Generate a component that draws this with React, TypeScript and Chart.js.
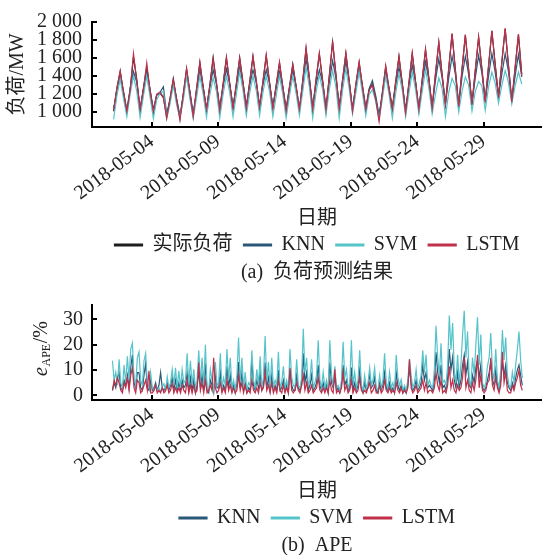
import React, { useEffect, useRef } from 'react';
import { Chart, registerables } from 'chart.js';

Chart.register(...registerables);

const FONT = '"Liberation Serif", "Times New Roman", Tinos, "DejaVu Serif", "Noto Sans CJK SC", serif';
const TEXT = '#222222';

// ---- data ----
// day 0 = 2018-05-01; load sampled at these hours of each day
const loadHours = [3, 9, 15, 21];
// APE sampled at these hours of each day
const apeHours = [1, 4, 7, 10, 13, 16, 19, 22];

const xTickDays = [3, 8, 13, 18, 23, 28];
const xTickLabels = ['2018-05-04', '2018-05-09', '2018-05-14', '2018-05-19', '2018-05-24', '2018-05-29'];
const loadTicks = [1000, 1200, 1400, 1600, 1800, 2000];
const apeTicks = [0, 10, 20, 30];

const seriesNames = ['实际负荷', 'KNN', 'SVM', 'LSTM'];
const seriesColors = ['#1e1e1e', '#2a5878', '#55c3ca', '#c0304a'];

const actualLoad = [
  1010, 1260, 1450, 1210, 1000, 1250, 1610, 1360, 1020, 1270, 1500, 1240, 1000, 1190, 1210, 1160,
  950, 1150, 1370, 1140, 930, 1200, 1480, 1220, 960, 1250, 1550, 1280, 1020, 1300, 1605, 1320,
  1030, 1310, 1600, 1320, 1040, 1310, 1605, 1330, 1050, 1330, 1615, 1340, 1050, 1330, 1625, 1330,
  1050, 1300, 1545, 1280, 1020, 1280, 1530, 1280, 1020, 1350, 1700, 1380, 1040, 1350, 1645, 1350,
  1020, 1400, 1775, 1420, 1050, 1350, 1650, 1350, 1020, 1300, 1550, 1290, 1020, 1250, 1310, 1150,
  940, 1220, 1500, 1260, 1040, 1330, 1620, 1320, 1000, 1320, 1650, 1340, 1020, 1360, 1690, 1380,
  1050, 1420, 1770, 1420, 1090, 1480, 1865, 1470, 1070, 1470, 1855, 1470, 1090, 1460, 1830, 1480,
  1120, 1510, 1900, 1530, 1170, 1550, 1925, 1520, 1120, 1490, 1860, 1420,
];
const knnLoad = [
  1030, 1240, 1400, 1230, 1020, 1260, 1450, 1330, 1040, 1250, 1450, 1250, 1030, 1190, 1220, 1280,
  980, 1130, 1330, 1150, 960, 1180, 1420, 1230, 980, 1220, 1460, 1280, 1040, 1270, 1470, 1310,
  1050, 1280, 1480, 1310, 1060, 1280, 1500, 1320, 1070, 1290, 1470, 1330, 1070, 1300, 1470, 1320,
  1060, 1270, 1450, 1280, 1040, 1260, 1460, 1290, 1040, 1300, 1590, 1360, 1060, 1300, 1470, 1330,
  1050, 1330, 1570, 1380, 1070, 1320, 1560, 1340, 1040, 1280, 1480, 1290, 1050, 1260, 1350, 1180,
  970, 1190, 1450, 1270, 1050, 1290, 1500, 1310, 1020, 1290, 1520, 1330, 1040, 1310, 1560, 1360,
  1060, 1350, 1590, 1380, 1090, 1380, 1620, 1420, 1080, 1390, 1620, 1420, 1100, 1380, 1630, 1430,
  1130, 1400, 1650, 1440, 1170, 1420, 1650, 1450, 1130, 1400, 1640, 1390,
];
const svmLoad = [
  920, 1180, 1370, 1150, 950, 1200, 1400, 1230, 940, 1180, 1400, 1170, 930, 1140, 1210, 1230,
  930, 1090, 1300, 1080, 940, 1130, 1400, 1150, 930, 1160, 1400, 1200, 945, 1190, 1380, 1230,
  935, 1200, 1400, 1220, 950, 1200, 1450, 1240, 960, 1210, 1400, 1240, 965, 1220, 1400, 1230,
  950, 1180, 1400, 1200, 935, 1180, 1400, 1210, 965, 1230, 1500, 1280, 935, 1220, 1410, 1250,
  965, 1250, 1460, 1280, 935, 1240, 1480, 1260, 980, 1210, 1450, 1210, 960, 1190, 1250, 1120,
  920, 1150, 1400, 1200, 935, 1210, 1425, 1240, 950, 1210, 1440, 1250, 980, 1230, 1470, 1270,
  980, 1200, 1380, 1260, 950, 1220, 1375, 1290, 1000, 1230, 1390, 1300, 1010, 1230, 1340, 1290,
  1020, 1280, 1445, 1320, 1100, 1300, 1460, 1330, 1090, 1290, 1445, 1310,
];
const lstmLoad = [
  1020, 1270, 1460, 1220, 1010, 1240, 1650, 1340, 1030, 1250, 1545, 1230, 1010, 1200, 1220, 1170,
  930, 1140, 1365, 1130, 910, 1190, 1485, 1210, 950, 1260, 1555, 1270, 1030, 1290, 1590, 1330,
  1020, 1300, 1610, 1310, 1050, 1320, 1600, 1320, 1040, 1320, 1620, 1350, 1060, 1340, 1635, 1320,
  1040, 1290, 1555, 1270, 1010, 1270, 1525, 1290, 1030, 1340, 1715, 1370, 1030, 1360, 1655, 1340,
  1030, 1390, 1790, 1410, 1040, 1360, 1655, 1340, 1010, 1310, 1555, 1280, 1030, 1240, 1300, 1140,
  895, 1210, 1515, 1250, 1030, 1340, 1615, 1310, 990, 1330, 1655, 1330, 1030, 1350, 1705, 1370,
  1040, 1430, 1780, 1410, 1080, 1490, 1875, 1460, 1060, 1480, 1860, 1460, 1080, 1470, 1835, 1470,
  1110, 1520, 1905, 1520, 1160, 1560, 1930, 1510, 1110, 1500, 1865, 1400,
];

const knnApe = [
  2, 5, 3, 7, 9, 3, 2, 6, 4, 8, 3, 11, 16, 5, 3, 9, 9, 3, 2, 8, 12.6, 3, 2, 6, 2, 3, 5, 2, 4, 9, 3, 2,
  3, 5, 2, 4, 7, 2, 6, 2, 5, 2, 6, 3, 4, 9, 2, 7, 2, 6, 1, 4, 9, 3, 8, 2, 12.6, 2, 1, 6, 4, 1, 8, 3,
  3, 9, 2, 4, 2, 11.5, 3, 8, 2, 4, 1, 5, 13.2, 3, 9, 2, 5, 1, 3, 2, 14.3, 4, 2, 6, 3, 9, 2, 4, 13, 3, 7, 2,
  8, 2, 4, 2, 10, 2, 3, 6, 2, 4, 1, 10, 4, 2, 2, 8, 3, 2, 4, 16.6, 5, 9, 2, 4, 8, 2, 3, 5, 12, 4, 2, 5,
  2, 4, 1, 13, 5, 3, 7, 2, 3, 1, 4, 12, 4, 6, 2, 3, 11, 2, 5, 2, 4, 10, 3, 1, 5, 2, 3, 9, 3, 4, 7, 2,
  1, 5, 2, 4, 9, 3, 2, 5, 2, 3, 1, 9, 4, 2, 4, 1, 3, 1, 4, 11, 5, 2, 3, 6, 2, 3, 5, 12, 6, 9, 3, 4,
  3, 2, 6, 17, 9, 5, 12, 3, 4, 2, 7, 18.3, 10, 15, 6, 3, 9, 3, 6, 12, 16, 8, 13, 4, 3, 8, 5, 11, 14, 7, 12, 3,
  2, 3, 6, 9, 13, 6, 4, 10, 4, 2, 6, 13, 8, 12, 5, 3, 2, 5, 3, 7, 10, 12, 8, 4,
];
const svmApe = [
  13.7, 6, 9.2, 4, 14.3, 5, 3, 12, 5, 15.5, 6, 18.3, 20.6, 7, 4, 14.9, 17.2, 6, 4, 13.7, 16.6, 5, 3, 9,
  3, 2, 4, 2, 3, 1.5, 3.5, 4.6, 2, 7.4, 3, 5, 10.3, 4, 10.9, 3, 9.7, 3, 10.3, 5, 6, 16.6, 4, 13.7,
  4, 10.3, 3, 6, 17.8, 5, 14.9, 4, 20, 3, 2, 10.3, 6, 2, 13.2, 4, 5, 16.6, 3, 7, 4, 18.3, 6, 14.9,
  3, 6, 2, 8, 22.9, 5, 14.9, 3, 9.2, 2, 5, 4, 17.8, 6, 3, 10.3, 4, 15.5, 3, 7, 23.5, 5, 13.2, 3,
  14.9, 3, 6, 4, 17.2, 3, 5, 11.5, 3, 6, 2, 18.3, 7, 4, 3, 14.3, 4, 3, 7, 26.3, 9, 14.9, 4, 6,
  14.3, 3, 5, 8, 21.8, 6, 3, 9.2, 3, 6, 2, 21.8, 8, 4, 11.5, 3, 4, 2, 6, 21.2, 7, 10.3, 3, 5,
  21.8, 4, 9.2, 3, 6, 17.8, 4, 2, 8, 3, 5, 10.9, 4, 6, 10.9, 3, 2, 8, 3, 6, 16.6, 5, 3, 9.2,
  3, 5, 2, 16, 7, 4, 6.3, 2, 4, 2, 6, 14.3, 8, 3, 5, 10.3, 3, 5, 8, 17.8, 9, 16, 4, 6,
  4, 3, 10, 27.5, 15, 8, 20.6, 5, 6, 4, 12, 31.5, 18, 28.6, 10, 5, 16, 5, 12, 24, 33.4, 15, 25.2, 6,
  4, 15, 8, 20, 30.9, 12, 24, 5, 3, 5, 11.5, 15, 24.6, 10, 6, 18.3, 6, 3, 10, 25.8, 14, 22.9, 8, 4,
  3, 9.2, 5, 12, 18, 25.2, 14, 6.9,
];
const lstmApe = [
  2, 6, 4, 7, 5, 2, 1, 5, 3, 7, 2, 8, 10.9, 3, 1, 6, 5, 1, 2, 4, 6, 2, 9.7, 1, 1, 2, 4, 1, 2, 1, 3, 1,
  2, 4, 1, 2, 5, 1, 3, 1, 3, 1, 4, 2, 1, 6, 1, 4, 1, 4, 1, 2, 13, 2, 5, 1, 6, 1, 2, 4, 2, 14.9, 3, 1,
  2, 5, 1, 3, 1, 6, 2, 4, 1, 3, 1, 2, 8, 2, 5, 1, 4, 1, 2, 1, 6, 2, 1, 3, 1, 5, 2, 3, 9, 2, 4, 1,
  5, 1, 3, 1, 6, 2, 1, 4, 1, 3, 1, 10.9, 2, 1, 2, 5, 2, 1, 4, 8, 2, 5, 1, 2, 4, 1, 2, 3, 7, 2, 1, 3,
  1, 3, 1, 6, 2, 1, 10.3, 1, 2, 1, 3, 9, 2, 4, 1, 2, 6, 1, 3, 1, 2, 7, 2, 1, 2, 1, 3, 5, 1, 2, 4, 1,
  1, 4, 1, 2, 6, 2, 1, 3, 1, 2, 1, 5, 2, 1, 3, 1, 2, 1, 3, 14.3, 3, 1, 2, 4, 1, 2, 3, 6, 2, 5, 1, 2,
  2, 1, 3, 9, 4, 2, 6, 1, 2, 1, 4, 11.5, 3, 6, 2, 1, 4, 2, 3, 7, 14.9, 3, 6, 2, 1, 5, 2, 6, 16, 3, 8, 2,
  1, 2, 5, 6, 14.9, 4, 2, 7, 3, 1, 4, 17.2, 5, 9, 2, 1, 1, 4, 2, 5, 7, 10, 4, 2,
];

// ---- helpers ----
const toPoints = (values: number[], hours: number[]) =>
  values.map((v, i) => ({ x: Math.floor(i / hours.length) + hours[i % hours.length] / 24, y: v }));

const fmtThousands = (v: number) => String(v).replace(/\B(?=(\d{3})+(?!\d))/g, ' ');

const inwardTicks = {
  id: 'inwardTicks',
  afterDraw(chart: any) {
    const { ctx, chartArea } = chart;
    const xs = chart.scales.x;
    const ys = chart.scales.y;
    ctx.save();
    ctx.strokeStyle = '#000';
    ctx.lineWidth = 2;
    ctx.beginPath();
    xs.ticks.forEach((t: any) => {
      const px = Math.round(xs.getPixelForValue(t.value));
      ctx.moveTo(px, chartArea.bottom);
      ctx.lineTo(px, chartArea.bottom - 5);
    });
    ys.ticks.forEach((t: any) => {
      const py = Math.round(ys.getPixelForValue(t.value));
      ctx.moveTo(chartArea.left, py);
      ctx.lineTo(chartArea.left + 5, py);
    });
    ctx.stroke();
    ctx.restore();
  },
};

const apeTitle = {
  id: 'apeTitle',
  afterDraw(chart: any) {
    const { ctx, chartArea } = chart;
    const cy = (chartArea.top + chartArea.bottom) / 2 - 4;
    const bx = chartArea.left - 45;
    ctx.save();
    ctx.translate(bx, cy);
    ctx.rotate(-Math.PI / 2);
    ctx.fillStyle = TEXT;
    ctx.textBaseline = 'alphabetic';
    ctx.textAlign = 'left';
    const fMain = `20px ${FONT}`;
    const fItal = `italic 20px ${FONT}`;
    const fSub = `12px ${FONT}`;
    ctx.font = fItal;
    const wE = ctx.measureText('e').width;
    ctx.font = fSub;
    const wS = ctx.measureText('APE').width;
    ctx.font = fMain;
    const wP = ctx.measureText('/%').width;
    let x = -(wE + wS + wP + 1) / 2;
    ctx.font = fItal;
    ctx.fillText('e', x, 0);
    x += wE + 0.5;
    ctx.font = fSub;
    ctx.fillText('APE', x, 3);
    x += wS + 0.5;
    ctx.font = fMain;
    ctx.fillText('/%', x, 0);
    ctx.restore();
  },
};

const xScale = (title: string) => ({
  type: 'linear',
  min: -1.5,
  max: 32.4,
  grid: { display: false, drawTicks: false },
  border: { display: true, color: '#000', width: 2 },
  afterBuildTicks: (s: any) => {
    s.ticks = xTickDays.map((v) => ({ value: v }));
  },
  afterFit: (s: any) => {
    s.height = 97;
  },
  ticks: {
    autoSkip: false,
    minRotation: 37,
    maxRotation: 37,
    padding: 3,
    color: TEXT,
    font: { family: FONT, size: 20 },
    callback: (v: number) => xTickLabels[xTickDays.indexOf(v)],
  },
  title: {
    display: true,
    text: title,
    color: TEXT,
    font: { family: FONT, size: 20 },
    padding: { top: 0, bottom: -7 },
  },
});

const legendOpts = {
  position: 'bottom',
  fullSize: false,
  labels: {
    boxWidth: 28,
    boxHeight: 2,
    padding: 11,
    color: TEXT,
    font: { family: FONT, size: 20 },
    sort: (a: any, b: any) => a.datasetIndex - b.datasetIndex,
  },
};

const titleOpts = (text: string) => ({
  display: true,
  text,
  position: 'bottom',
  fullSize: false,
  color: TEXT,
  font: { family: FONT, size: 20, weight: 'normal' },
  padding: { top: -4, bottom: -3 },
});

const lineDs = (label: string, color: string, data: any[], order: number) => ({
  label,
  data,
  borderColor: color,
  backgroundColor: color,
  borderWidth: 1.2,
  pointRadius: 0,
  tension: 0,
  order,
});

function topConfig(): any {
  return {
    type: 'line',
    data: {
      datasets: [
        lineDs(seriesNames[0], seriesColors[0], toPoints(actualLoad, loadHours), 4),
        lineDs(seriesNames[1], seriesColors[1], toPoints(knnLoad, loadHours), 3),
        lineDs(seriesNames[2], seriesColors[2], toPoints(svmLoad, loadHours), 2),
        lineDs(seriesNames[3], seriesColors[3], toPoints(lstmLoad, loadHours), 1),
      ],
    },
    options: {
      responsive: false,
      animation: false,
      events: [],
      layout: { padding: { top: 17, left: 0, right: 0, bottom: 2 } },
      scales: {
        x: xScale('日期'),
        y: {
          type: 'linear',
          min: 835,
          max: 2000,
          grid: { display: false, drawTicks: false },
          border: { display: true, color: '#000', width: 2 },
          afterBuildTicks: (s: any) => {
            s.ticks = loadTicks.map((v) => ({ value: v }));
          },
          afterFit: (s: any) => {
            s.width = 92;
          },
          ticks: {
            autoSkip: false,
            padding: 10,
            color: TEXT,
            font: { family: FONT, size: 20 },
            callback: (v: number) => fmtThousands(v),
          },
          title: {
            display: true,
            text: '负荷/MW',
            color: TEXT,
            font: { family: FONT, size: 20 },
            padding: { top: 6, bottom: 0 },
          },
        },
      },
      plugins: {
        legend: legendOpts,
        title: titleOpts('(a)  负荷预测结果'),
        tooltip: { enabled: false },
      },
    },
    plugins: [inwardTicks],
  };
}

function bottomConfig(): any {
  return {
    type: 'line',
    data: {
      datasets: [
        lineDs(seriesNames[1], seriesColors[1], toPoints(knnApe, apeHours), 3),
        lineDs(seriesNames[2], seriesColors[2], toPoints(svmApe, apeHours), 2),
        lineDs(seriesNames[3], seriesColors[3], toPoints(lstmApe, apeHours), 1),
      ],
    },
    options: {
      responsive: false,
      animation: false,
      events: [],
      layout: { padding: { top: 7, left: 0, right: 0, bottom: 0 } },
      scales: {
        x: xScale('日期'),
        y: {
          type: 'linear',
          min: -1.8,
          max: 35.7,
          grid: { display: false, drawTicks: false },
          border: { display: true, color: '#000', width: 2 },
          afterBuildTicks: (s: any) => {
            s.ticks = apeTicks.map((v) => ({ value: v }));
          },
          afterFit: (s: any) => {
            s.width = 92;
          },
          ticks: {
            autoSkip: false,
            padding: 9,
            color: TEXT,
            font: { family: FONT, size: 20 },
            callback: (v: number) => String(v),
          },
          title: { display: false },
        },
      },
      plugins: {
        legend: legendOpts,
        title: titleOpts('(b)  APE'),
        tooltip: { enabled: false },
      },
    },
    plugins: [inwardTicks, apeTitle],
  };
}

function ChartCanvas({ make, width, height }: { make: () => any; width: number; height: number }) {
  const ref = useRef<HTMLCanvasElement | null>(null);
  useEffect(() => {
    if (!ref.current) return;
    const chart = new Chart(ref.current, make());
    return () => chart.destroy();
  }, []);
  return <canvas ref={ref} width={width} height={height} style={{ display: 'block', width, height }} />;
}

export default function App() {
  return (
    <div style={{ position: 'absolute', left: 0, top: 0, width: 542, height: 555, background: '#fff' }}>
      <ChartCanvas make={topConfig} width={542} height={284} />
      <ChartCanvas make={bottomConfig} width={542} height={271} />
    </div>
  );
}
